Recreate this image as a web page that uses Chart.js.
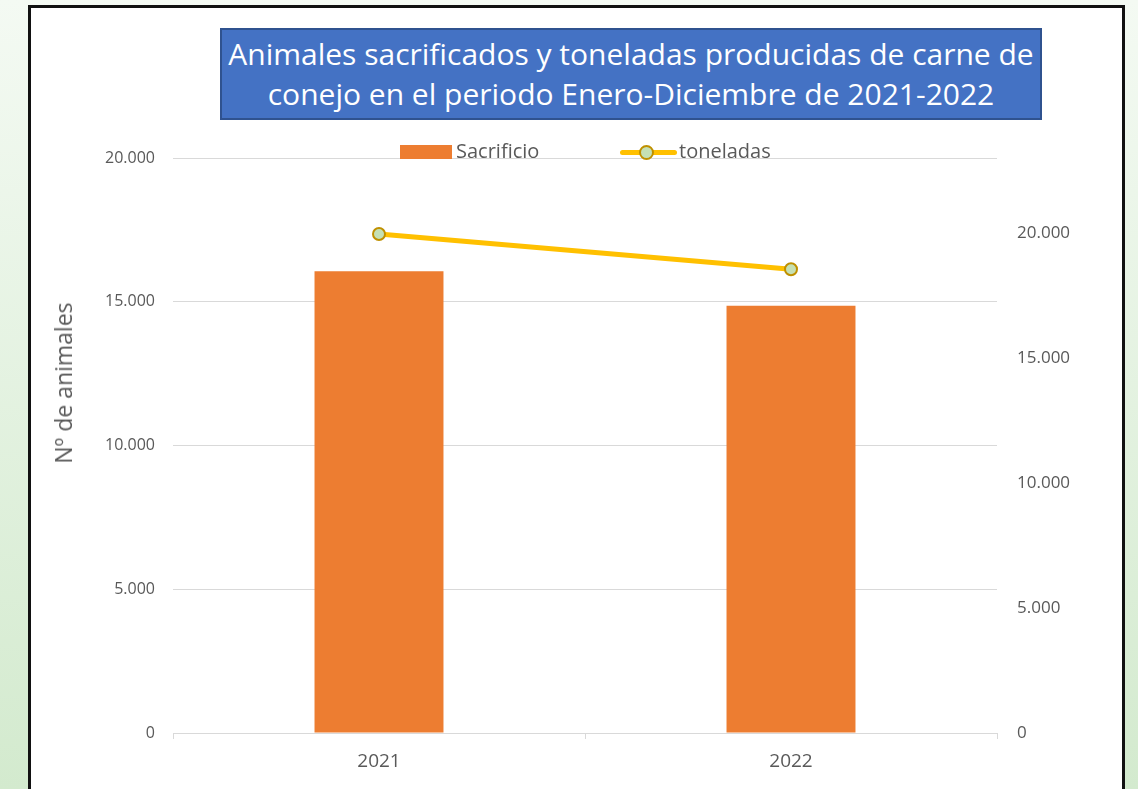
<!DOCTYPE html>
<html>
<head>
<meta charset="utf-8">
<script src="https://cdn.jsdelivr.net/npm/chart.js@4.4.1/dist/chart.umd.min.js"></script>
<style>
  html, body { margin: 0; padding: 0; }
  body {
    width: 1138px; height: 789px; overflow: hidden; position: relative;
    background: linear-gradient(to bottom, #f4faf3, #d3eace);
    font-family: "Open Sans", sans-serif;
  }
  #frame {
    position: absolute; left: 28px; top: 5px; width: 1091px; height: 800px;
    background: #fff; border: 3px solid #111;
  }
  #chartBox { position: absolute; left: 0; top: 0; width: 1138px; height: 789px; }
  #title {
    position: absolute; left: 220px; top: 28px; width: 818px; height: 88px;
    background: #4472c4; border: 2px solid #2f528f; color: #fff;
    font-size: 30px; line-height: 40px; text-align: center;
    display: flex; align-items: center; justify-content: center;
  }
  #yTitle {
    position: absolute; left: 63px; top: 383px; color: #595959; font-size: 23px;
    transform: translate(-50%, -50%) rotate(-90deg); white-space: nowrap;
  }
  .leg { position: absolute; top: 138px; color: #595959; font-size: 20px; line-height: 26px; }
  .swatch { position: absolute; }
</style>
</head>
<body>
<div id="frame"></div>
<div id="chartBox"><canvas id="chart" width="1138" height="789"></canvas></div>
<div id="title">Animales sacrificados y toneladas producidas de carne de<br>conejo en el periodo Enero-Diciembre de 2021-2022</div>
<div id="yTitle">Nº de animales</div>
<div class="swatch" style="left:400px;top:145px;width:52px;height:14px;background:#ed7d31"></div>
<div class="leg" style="left:456px">Sacrificio</div>
<div class="swatch" style="left:620px;top:150px;width:57px;height:5px;border-radius:3px;background:#ffc000"></div>
<div class="swatch" style="left:639px;top:145px;width:11px;height:11px;border-radius:50%;background:#c5e0b4;border:2px solid #bf9000"></div>
<div class="leg" style="left:679px">toneladas</div>
<script>
const years = ["2021", "2022"];
const sacrificio = [16060, 14860];
const toneladas = [19960, 18550];
const leftTicks = [0, 5000, 10000, 15000, 20000];
const rightTicks = [0, 5000, 10000, 15000, 20000];

const fmt = v => String(v).replace(/\B(?=(\d{3})+(?!\d))/g, ".");
const GREY = "#595959";

new Chart(document.getElementById("chart"), {
  data: {
    labels: years,
    datasets: [
      {
        type: "line",
        label: "toneladas",
        data: toneladas,
        yAxisID: "y1",
        borderColor: "#ffc000",
        borderWidth: 5,
        pointRadius: 6,
        pointBackgroundColor: "#c5e0b4",
        pointBorderColor: "#bf9000",
        pointBorderWidth: 2,
        tension: 0,
        order: 0
      },
      {
        type: "bar",
        label: "Sacrificio",
        data: sacrificio,
        yAxisID: "y",
        backgroundColor: "#ed7d31",
        categoryPercentage: 1,
        barPercentage: 0.313,
        order: 1
      }
    ]
  },
  options: {
    responsive: false,
    animation: false,
    layout: { padding: { left: 40, right: 20, top: 158, bottom: 0 } },
    plugins: { legend: { display: false }, tooltip: { enabled: false } },
    scales: {
      x: {
        offset: true,
        grid: { offset: true, drawOnChartArea: false, drawTicks: true, tickLength: 6, color: "#d9d9d9" },
        border: { color: "#d9d9d9", width: 1 },
        ticks: { color: GREY, font: { family: "Open Sans", size: 19 }, padding: 11 },
        afterFit: s => { s.height = 56; }
      },
      y: {
        position: "left",
        min: 0, max: 20000,
        afterBuildTicks: s => { s.ticks = leftTicks.map(v => ({ value: v })); },
        grid: { color: "#d9d9d9", drawTicks: false },
        border: { display: false },
        ticks: { color: GREY, font: { family: "Open Sans", size: 16 }, padding: 18, callback: v => fmt(v) },
        afterFit: s => { s.width = 133; }
      },
      y1: {
        position: "right",
        min: 0, max: 23000,
        afterBuildTicks: s => { s.ticks = rightTicks.map(v => ({ value: v })); },
        grid: { display: false, drawTicks: false },
        border: { display: false },
        ticks: { color: GREY, font: { family: "Open Sans", size: 17 }, padding: 20, callback: v => fmt(v) },
        afterFit: s => { s.width = 121; }
      }
    }
  }
});
</script>
</body>
</html>
